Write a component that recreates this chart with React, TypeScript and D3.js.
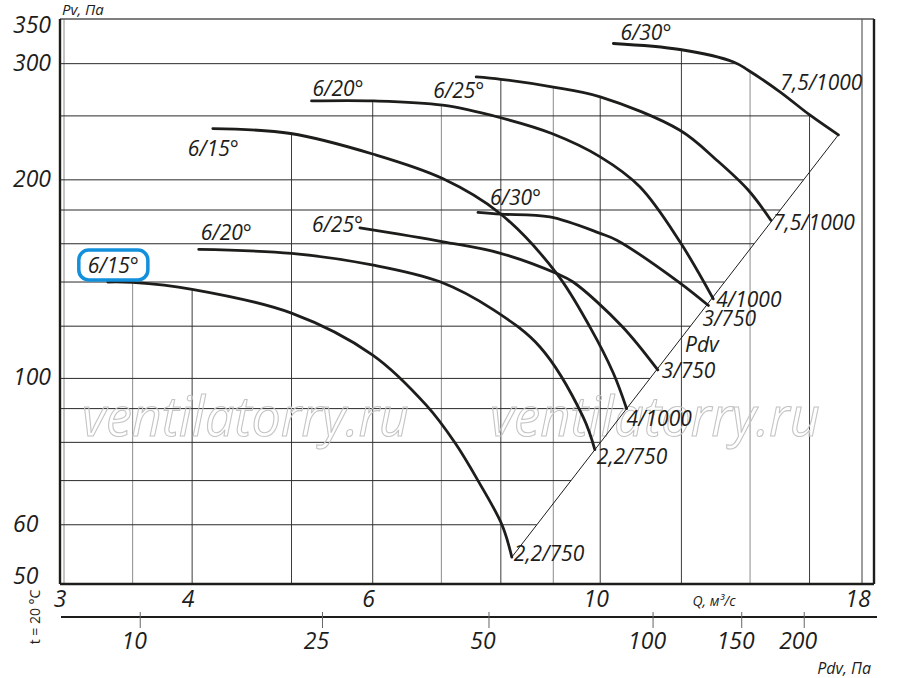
import React, { useEffect, useRef } from "react";
import * as d3 from "d3";

// axis ticks / grid
const qTicks = [3, 4, 6, 10, 18];
const pvTicks = [50, 60, 100, 200, 300, 350];
const pdvTicks = [10, 25, 50, 100, 150, 200];
// flow rate under each Pdv tick (the lower scale is not exactly log-regular)
const pdvTickQ = [3.56, 5.36, 7.79, 11.26, 13.74, 15.81];
const qGrid = [3, 3.5, 4, 5, 6, 7, 8, 9, 10, 12, 14, 16, 18];
const qGridLight = [3, 3.5, 7, 9, 14];
const pvGrid = [60, 70, 80, 90, 100, 120, 140, 160, 180, 200, 250, 300];

// lower group (smaller motors)
const q15Low = [3.31, 3.5, 4.0, 5.0, 6.0, 6.77, 7.22, 7.6, 8.02, 8.2];
const pv15Low = [140, 139.8, 136.5, 125.6, 108.5, 91, 79.8, 70, 60, 53.6];
const q20Low = [4.06, 5.0, 6.01, 6.98, 7.87, 8.74, 9.62, 9.88];
const pv20Low = [156.9, 154.7, 148.5, 140.1, 127, 111.5, 87.5, 78];
const q25Low = [5.83, 7.03, 7.98, 9.07, 9.41, 10.5, 11.38];
const pv25Low = [169.1, 161.1, 154.9, 144.2, 140, 120, 103];
const q30Low = [7.6, 8.0, 8.93, 10.0, 10.38, 11.92, 12.75];
const pv30Low = [178.5, 177.4, 175.7, 165.9, 162, 140.1, 129];

// upper group
const q15Up = [4.19, 4.99, 6.01, 7.02, 7.98, 9.07, 9.77, 10.3, 10.61];
const pv15Up = [239.2, 235.1, 218.7, 200.9, 178, 144.2, 119.7, 101.8, 90];
const q20Up = [5.23, 6.01, 7.02, 7.98, 8.97, 10.0, 10.93, 11.96, 12.89];
const pv20Up = [263.4, 263.4, 259.5, 248.6, 235.1, 216.7, 195.2, 161.1, 132];
const q25Up = [7.57, 8.0, 8.97, 10.0, 11.96, 12.99, 13.94, 14.67];
const pv25Up = [286.4, 284.1, 276.7, 267.2, 237.8, 214.2, 193, 173.7];
const q30Up = [10.3, 11.96, 13.49, 13.94, 14.97, 16.02, 17.07];
const pv30Up = [321.9, 315.2, 301.8, 293.2, 271.9, 250.6, 234];

const curves = [
  { angle: "6/15°", motor: "2,2/750", q: q15Low, pv: pv15Low },
  { angle: "6/20°", motor: "2,2/750", q: q20Low, pv: pv20Low },
  { angle: "6/25°", motor: "3/750", q: q25Low, pv: pv25Low },
  { angle: "6/30°", motor: "3/750", q: q30Low, pv: pv30Low },
  { angle: "6/15°", motor: "4/1000", q: q15Up, pv: pv15Up },
  { angle: "6/20°", motor: "4/1000", q: q20Up, pv: pv20Up },
  { angle: "6/25°", motor: "7,5/1000", q: q25Up, pv: pv25Up },
  { angle: "6/30°", motor: "7,5/1000", q: q30Up, pv: pv30Up },
];

// label placement relative to curve start / end (px)
const labelLayout = [
  { sdx: -20, sdy: -9, edx: 2, edy: 4, boxed: true },
  { sdx: 2, sdy: -9, edx: 2, edy: 14 },
  { sdx: -48, sdy: 4, edx: 4, edy: 8 },
  { sdx: 12, sdy: -7, edx: -6, edy: 21 },
  { sdx: -25, sdy: 27, edx: 0, edy: 17 },
  { sdx: 1, sdy: -5, edx: 3, edy: 8 },
  { sdx: -43, sdy: 21, edx: 2, edy: 10 },
  { sdx: 7, sdy: -3, edx: -58, edy: -45 },
];

const FONT = "'Open Sans', 'Noto Sans', sans-serif";
const INK = "#1d1d1b";

const App = () => {
  const ref = useRef<SVGSVGElement>(null);

  useEffect(() => {
    if (!ref.current) return;
    const svg = d3.select(ref.current);
    svg.selectAll("*").remove();
    svg.attr("width", 900).attr("height", 678);

    const left = 60, right = 874, top = 19, bottom = 584;
    const x = d3.scaleLog().domain([3, 18]).range([64, 862]);
    const y = d3.scaleLog().domain([50, 350]).range([577, 19.5]);
    const pdvToQ = d3.scaleLog().domain(pdvTicks).range(pdvTickQ);

    svg.append("rect").attr("width", 900).attr("height", 678).attr("fill", "#fff");

    const gridG = svg.append("g");
    const markG = svg.append("g");
    const curveG = svg.append("g");
    const textG = svg.append("g")
      .attr("font-family", FONT)
      .attr("font-style", "italic")
      .attr("fill", INK);

    // curves
    const line = d3.line<[number, number]>()
      .x((d) => x(d[0]))
      .y((d) => y(d[1]))
      .curve(d3.curveCatmullRom.alpha(0.5));

    const paths = curves.map((c) =>
      curveG.append("path")
        .attr("d", line(c.q.map((q, i) => [q, c.pv[i]] as [number, number])))
        .attr("fill", "none")
        .attr("stroke", INK)
        .attr("stroke-width", 2.8)
        .attr("stroke-linecap", "round")
        .node() as SVGPathElement
    );

    // Pdv line through the end points
    const first = curves[0], last = curves[curves.length - 1];
    const d0: [number, number] = [x(first.q[first.q.length - 1]), y(first.pv[first.pv.length - 1])];
    const d1: [number, number] = [x(last.q[last.q.length - 1]), y(last.pv[last.pv.length - 1])];
    curveG.append("line")
      .attr("x1", d0[0]).attr("y1", d0[1]).attr("x2", d1[0]).attr("y2", d1[1])
      .attr("stroke", INK).attr("stroke-width", 1);
    const diagX = (py: number) => d0[0] + ((py - d0[1]) * (d1[0] - d0[0])) / (d1[1] - d0[1]);

    // sample drawn curves for grid clipping
    const samples = paths.map((node) => {
      const L = node.getTotalLength();
      return d3.range(301).map((k) => {
        const p = node.getPointAtLength((L * k) / 300);
        return [p.x, p.y];
      });
    });

    const envelopeTop = (px: number) => {
      let best = top;
      let found = false;
      samples.forEach((pts) => {
        if (px < pts[0][0] || px > pts[pts.length - 1][0]) return;
        for (let k = 1; k < pts.length; k++) {
          if (pts[k][0] >= px) {
            const a = pts[k - 1], b = pts[k];
            const t = b[0] === a[0] ? 0 : (px - a[0]) / (b[0] - a[0]);
            const py = a[1] + t * (b[1] - a[1]);
            if (!found || py < best) best = py;
            found = true;
            break;
          }
        }
      });
      return found ? best : top;
    };

    const rightEnd = (py: number) => {
      let maxX = left;
      samples.forEach((pts) => {
        if (pts[0][1] > py) return;
        let xe = pts[pts.length - 1][0];
        for (let k = 1; k < pts.length; k++) {
          if (pts[k][1] > py) {
            const a = pts[k - 1], b = pts[k];
            const t = (py - a[1]) / (b[1] - a[1]);
            xe = a[0] + t * (b[0] - a[0]);
            break;
          }
        }
        maxX = Math.max(maxX, xe);
      });
      return Math.min(maxX, diagX(py));
    };

    // grid
    qGrid.forEach((q) => {
      const px = x(q);
      gridG.append("line")
        .attr("x1", px).attr("x2", px)
        .attr("y1", bottom).attr("y2", envelopeTop(px))
        .attr("stroke", qGridLight.includes(q) ? "#8c8c8c" : "#3c3c3c")
        .attr("stroke-width", 1);
    });
    pvGrid.forEach((pv) => {
      const py = y(pv);
      gridG.append("line")
        .attr("x1", left).attr("x2", rightEnd(py))
        .attr("y1", py).attr("y2", py)
        .attr("stroke", "#2a2a2a")
        .attr("stroke-width", 1);
    });

    // frame
    gridG.append("line").attr("x1", left).attr("x2", right).attr("y1", top).attr("y2", top)
      .attr("stroke", "#555").attr("stroke-width", 1.5);
    [[left, top, left, bottom], [left, bottom, right, bottom], [right, top, right, bottom]].forEach(([a, b, c, d]) =>
      gridG.append("line").attr("x1", a).attr("y1", b).attr("x2", c).attr("y2", d)
        .attr("stroke", INK).attr("stroke-width", 2.4)
    );

    // watermark
    [[82, 327], [490, 330]].forEach(([wx, wl]) =>
      markG.append("text")
        .attr("x", wx).attr("y", 436)
        .attr("textLength", wl).attr("lengthAdjust", "spacingAndGlyphs")
        .attr("font-family", FONT).attr("font-style", "italic")
        .attr("font-size", 54)
        .attr("fill", "none").attr("stroke", "#c4c4c4").attr("stroke-width", 1.1)
        .text("ventilatorry.ru")
    );

    // Pv tick labels
    pvTicks.forEach((v) => {
      textG.append("text")
        .attr("x", 13).attr("y", Math.max(y(v) + 7, 33))
        .attr("font-size", 23)
        .text(v);
    });
    textG.append("text").attr("x", 62).attr("y", 15).attr("font-size", 15).text("Pv, Па");

    // Q tick labels
    qTicks.forEach((v) => {
      textG.append("text")
        .attr("x", x(v) - 4).attr("y", 607)
        .attr("text-anchor", "middle")
        .attr("font-size", 23)
        .text(v);
    });
    textG.append("text").attr("x", 714).attr("y", 606).attr("text-anchor", "middle")
      .attr("font-size", 14).text("Q, м³/с");

    // Pdv axis
    svg.append("line").attr("x1", 61).attr("x2", 877).attr("y1", 617).attr("y2", 617)
      .attr("stroke", INK).attr("stroke-width", 2.2);
    pdvTicks.forEach((v) => {
      const px = x(pdvToQ(v));
      svg.append("line").attr("x1", px).attr("x2", px).attr("y1", 612).attr("y2", 628)
        .attr("stroke", "#666").attr("stroke-width", 1);
      textG.append("text")
        .attr("x", px - 6).attr("y", 649)
        .attr("text-anchor", "middle")
        .attr("font-size", 23)
        .text(v);
    });
    textG.append("text").attr("x", 871).attr("y", 674).attr("text-anchor", "end")
      .attr("font-size", 16).text("Pdv, Па");
    textG.append("text")
      .attr("transform", "translate(40,617) rotate(-90)")
      .attr("text-anchor", "middle")
      .attr("font-style", "normal")
      .attr("font-size", 14)
      .text("t = 20 °C");

    textG.append("text").attr("x", 685).attr("y", 352).attr("font-size", 21).text("Pdv");

    // curve labels
    curves.forEach((c, i) => {
      const lay = labelLayout[i];
      const sx = x(c.q[0]), sy = y(c.pv[0]);
      const n = c.q.length - 1;
      const ex = x(c.q[n]), ey = y(c.pv[n]);
      const t = textG.append("text")
        .attr("x", sx + lay.sdx).attr("y", sy + lay.sdy)
        .attr("font-size", 21)
        .text(c.angle);
      if (lay.boxed) {
        const bb = (t.node() as SVGTextElement).getBBox();
        textG.insert("rect", "text")
          .attr("x", bb.x - 9).attr("y", bb.y - 1)
          .attr("width", bb.width + 18).attr("height", bb.height + 2)
          .attr("rx", 10)
          .attr("fill", "#fff")
          .attr("stroke", "#1390dc")
          .attr("stroke-width", 3.5);
      }
      textG.append("text")
        .attr("x", ex + lay.edx).attr("y", ey + lay.edy)
        .attr("font-size", 21)
        .text(c.motor);
    });
  }, []);

  return <svg ref={ref} style={{ position: "absolute", left: 0, top: 0 }} />;
};

export default App;
